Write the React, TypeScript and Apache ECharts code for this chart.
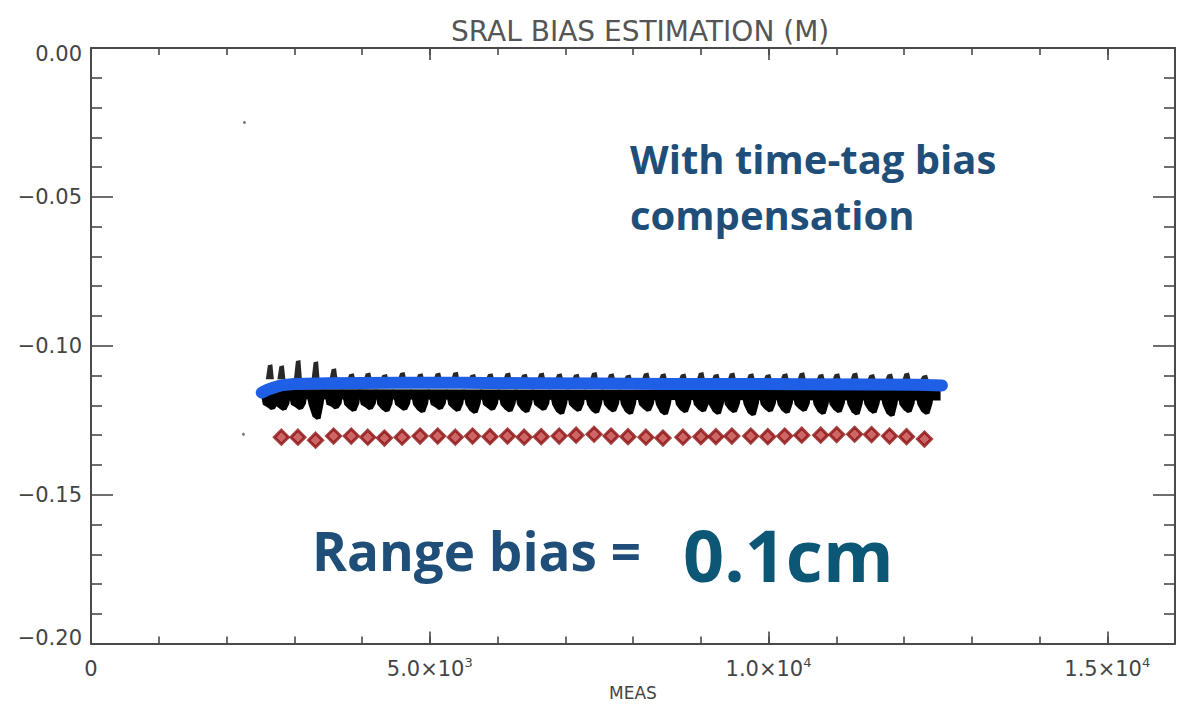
import React, { useEffect, useRef } from "react";
import * as echarts from "echarts";

// ---------- data ----------
const passX = [
  2810, 3054, 3315, 3580, 3841, 4085, 4331, 4592, 4857, 5117, 5377, 5632, 5889,
  6148, 6394, 6645, 6910, 7160, 7425, 7676, 7926, 8191, 8442, 8737, 9002, 9223,
  9459, 9738, 9989, 10239, 10490, 10770, 11006, 11271, 11521, 11786, 12037, 12302,
];
const diamondY = [
  -0.1307, -0.1307, -0.1317, -0.1303, -0.1303, -0.1307, -0.131, -0.1307, -0.1303,
  -0.1303, -0.1307, -0.1303, -0.1305, -0.1303, -0.1307, -0.1305, -0.1303, -0.13,
  -0.1297, -0.1303, -0.1305, -0.1307, -0.131, -0.1307, -0.1305, -0.1305, -0.1303,
  -0.1303, -0.1305, -0.1303, -0.13, -0.13, -0.1298, -0.1297, -0.1298, -0.1303,
  -0.1305, -0.1313,
];
const clusterX = [2640, ...passX];
const blackHi = [
  -0.1062, -0.1065, -0.1048, -0.1052, -0.1075, -0.1092, -0.109, -0.1095, -0.1088,
  -0.1092, -0.109, -0.1087, -0.1095, -0.1092, -0.109, -0.1094, -0.109, -0.1092,
  -0.1094, -0.1088, -0.1092, -0.1096, -0.109, -0.1092, -0.1093, -0.1088, -0.1094,
  -0.109, -0.1092, -0.1095, -0.1092, -0.1089, -0.1094, -0.1092, -0.109, -0.1095,
  -0.1093, -0.109, -0.1097,
];
const blackLo = [
  -0.1212, -0.1215, -0.1212, -0.1245, -0.121, -0.1218, -0.1212, -0.122, -0.1215,
  -0.1222, -0.1212, -0.1218, -0.1225, -0.1215, -0.122, -0.1222, -0.1215, -0.1228,
  -0.1218, -0.1225, -0.122, -0.1228, -0.1218, -0.123, -0.1222, -0.122, -0.1228,
  -0.1222, -0.1232, -0.122, -0.1225, -0.1218, -0.1228, -0.1222, -0.123, -0.1225,
  -0.1235, -0.1222, -0.1228,
];
const blueX = [2520, 2600, 2700, 2800, 3000, 3500, 4500, 5500, 6500, 7500, 8500, 9500, 10500, 11500, 12200, 12560];
const blueY = [
  -0.1157, -0.1148, -0.114, -0.1133, -0.1128, -0.1126, -0.1124, -0.1124, -0.1126,
  -0.1127, -0.1128, -0.1128, -0.1129, -0.113, -0.1131, -0.1133,
];
const coreX = [2560, 12540];
const coreY = [-0.1163, -0.1167];
const strayPoints = [
  [2265, -0.025],
  [2250, -0.1297],
];
const xTickLabels: Record<number, string> = {
  0: "{b|0}",
  5000: "{b|5.0×10}{s|3}",
  10000: "{b|1.0×10}{s|4}",
  15000: "{b|1.5×10}{s|4}",
};
const titleText = "SRAL BIAS ESTIMATION (M)";
const noteLine1 = "With time-tag bias";
const noteLine2 = "compensation";
const rangeText = "Range bias =";
const rangeValue = "0.1cm";

const AXIS_COLOR = "#4a4a4a";
const LABEL_COLOR = "#444";
const LABEL_FONT = "DejaVu Sans";

export default function App() {
  const ref = useRef<HTMLDivElement>(null);

  useEffect(() => {
    if (!ref.current) return;
    const chart = echarts.init(ref.current, undefined, { renderer: "svg" });

    const axisLine = { show: true, onZero: false, lineStyle: { color: AXIS_COLOR, width: 2 } };
    const noLine = { show: false, onZero: false };
    const tickStyle = { color: AXIS_COLOR, width: 1.6 };
    const xCommon = {
      type: "value" as const,
      min: 0,
      max: 16000,
      gridIndex: 0,
      splitLine: { show: false },
    };
    const yCommon = {
      type: "value" as const,
      min: -0.2,
      max: 0,
      interval: 0.05,
      splitLine: { show: false },
      axisLine,
      axisTick: { inside: true, length: 22, lineStyle: tickStyle },
      minorTick: { show: true, splitNumber: 5, length: 11, lineStyle: tickStyle },
    };

    const option: any = {
      animation: false,
      backgroundColor: "#ffffff",
      title: {
        text: titleText,
        left: 446,
        top: 12,
        textStyle: { fontFamily: LABEL_FONT, fontSize: 28, fontWeight: "normal", color: "#555" },
      },
      grid: { left: 91, top: 48, width: 1086, height: 600, containLabel: false },
      xAxis: [
        {
          ...xCommon,
          position: "bottom",
          interval: 5000,
          axisLine,
          axisTick: { inside: true, length: 12, lineStyle: tickStyle },
          axisLabel: {
            margin: 12,
            formatter: (v: number) => xTickLabels[v] ?? "",
            rich: {
              b: { fontFamily: LABEL_FONT, fontSize: 21, color: LABEL_COLOR, lineHeight: 26 },
              s: { fontFamily: LABEL_FONT, fontSize: 13, color: LABEL_COLOR, verticalAlign: "top", lineHeight: 26, padding: [0, 0, 8, 0] },
            },
          },
          name: "MEAS",
          nameLocation: "middle",
          nameGap: 36,
          nameTextStyle: { fontFamily: LABEL_FONT, fontSize: 17, color: LABEL_COLOR },
        },
        {
          ...xCommon,
          position: "bottom",
          interval: 1000,
          axisLine: noLine,
          axisTick: { inside: true, length: 7, lineStyle: tickStyle },
          axisLabel: { show: false },
        },
        {
          ...xCommon,
          position: "top",
          interval: 5000,
          axisLine,
          axisTick: { inside: true, length: 12, lineStyle: tickStyle },
          axisLabel: { show: false },
        },
        {
          ...xCommon,
          position: "top",
          interval: 1000,
          axisLine: noLine,
          axisTick: { inside: true, length: 7, lineStyle: tickStyle },
          axisLabel: { show: false },
        },
      ],
      yAxis: [
        {
          ...yCommon,
          position: "left",
          axisLabel: {
            margin: 9,
            fontFamily: LABEL_FONT,
            fontSize: 21,
            lineHeight: 12,
            color: LABEL_COLOR,
            verticalAlignMaxLabel: "top",
            verticalAlignMinLabel: "bottom",
            formatter: (v: number) => v.toFixed(2).replace("-", "\u2212"),
          },
        },
        {
          ...yCommon,
          position: "right",
          axisLabel: { show: false },
        },
      ],
      series: [
        {
          type: "custom",
          name: "black cloud",
          xAxisIndex: 0,
          yAxisIndex: 0,
          z: 2,
          clip: true,
          data: clusterX.map((x, i) => [x, blackHi[i], blackLo[i]]),
          encode: { x: 0, y: [1, 2] },
          renderItem: (params: any, api: any) => {
            const x = api.value(0);
            const hi = api.value(1);
            const lo = api.value(2);
            const [cx, yLo] = api.coord([x, lo]);
            const [, yHi] = api.coord([x, hi]);
            const [, yBase] = api.coord([x, -0.1148]);
            const [, yMid] = api.coord([x, -0.1195]);
            const [, yTopBase] = api.coord([x, -0.1112]);
            return {
              type: "group",
              children: [
                {
                  type: "polygon",
                  shape: {
                    points: [
                      [cx - 10, yBase],
                      [cx + 10, yBase],
                      [cx + 8, yMid],
                      [cx + 5, yLo],
                      [cx + 1, yLo + 1],
                      [cx - 3, yLo - 2],
                      [cx - 7, yMid + 1],
                    ],
                  },
                  style: { fill: "#000000" },
                },
                {
                  type: "polygon",
                  shape: {
                    points: [
                      [cx - 4, yTopBase],
                      [cx + 4, yTopBase],
                      [cx + 2.5, yHi],
                      [cx - 2, yHi + 1],
                    ],
                  },
                  style: { fill: "#111111", opacity: 0.9 },
                },
              ],
            };
          },
        },
        {
          type: "line",
          name: "black core",
          xAxisIndex: 0,
          yAxisIndex: 0,
          z: 3,
          symbol: "none",
          data: coreX.map((x, i) => [x, coreY[i]]),
          lineStyle: { color: "#000000", width: 10 },
        },
        {
          type: "line",
          name: "blue",
          xAxisIndex: 0,
          yAxisIndex: 0,
          z: 4,
          symbol: "none",
          smooth: false,
          data: blueX.map((x, i) => [x, blueY[i]]),
          lineStyle: { color: "#1f5fe6", width: 12, cap: "round", join: "round" },
        },
        {
          type: "scatter",
          name: "pass bias",
          xAxisIndex: 0,
          yAxisIndex: 0,
          z: 5,
          symbol: "diamond",
          symbolSize: 14,
          data: passX.map((x, i) => [x, diamondY[i]]),
          itemStyle: { color: "#c04040", borderColor: "#8c1010", borderWidth: 3 },
        },
        {
          type: "scatter",
          name: "stray",
          xAxisIndex: 0,
          yAxisIndex: 0,
          z: 5,
          symbolSize: 3,
          data: strayPoints,
          itemStyle: { color: "#555" },
        },
      ],
      graphic: [
        {
          type: "text",
          x: 630,
          y: 158,
          style: {
            text: noteLine1,
            fontFamily: "Open Sans",
            fontWeight: "bold",
            fontSize: 40,
            fill: "#1f4e79",
            align: "left",
            verticalAlign: "middle",
          },
        },
        {
          type: "text",
          x: 630,
          y: 214,
          style: {
            text: noteLine2,
            fontFamily: "Open Sans",
            fontWeight: "bold",
            fontSize: 40,
            fill: "#1f4e79",
            align: "left",
            verticalAlign: "middle",
          },
        },
        {
          type: "text",
          x: 312,
          y: 550,
          style: {
            text: rangeText,
            fontFamily: "Open Sans",
            fontWeight: "bold",
            fontSize: 53,
            fill: "#1f4e79",
            align: "left",
            verticalAlign: "middle",
          },
        },
        {
          type: "text",
          x: 683,
          y: 554,
          style: {
            text: rangeValue,
            fontFamily: "Open Sans",
            fontWeight: "bold",
            fontSize: 72,
            fill: "#0c5776",
            align: "left",
            verticalAlign: "middle",
          },
        },
      ],
    };

    chart.setOption(option);
    return () => chart.dispose();
  }, []);

  return (
    <div
      ref={ref}
      style={{ position: "fixed", left: 0, top: 0, width: 1178, height: 706, background: "#fff" }}
    />
  );
}
